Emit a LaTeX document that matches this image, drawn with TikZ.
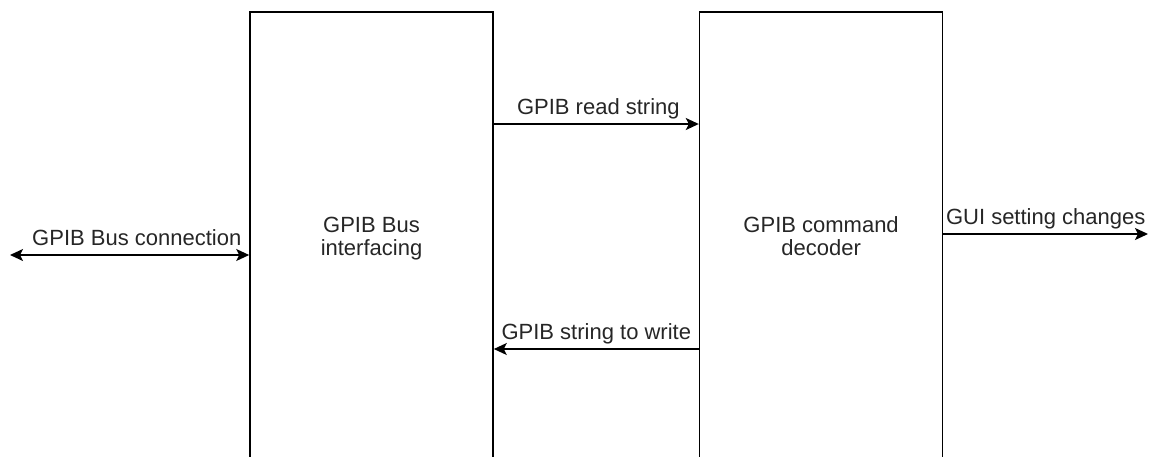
\documentclass[tikz,border=0pt]{standalone}
\usepackage{fontspec}
\setmainfont{Liberation Sans}
\usepackage{tikz}
\usetikzlibrary{arrows.meta,positioning,calc}

\begin{document}
\begin{tikzpicture}[
  x=1pt,y=-1pt,
  box/.style={rectangle,draw=black,line width=1.6pt,minimum width=243pt,minimum height=486pt,inner sep=0pt},
  boxtext/.style={align=center,font=\fontsize{22}{23}\selectfont,inner sep=0pt,text=black!85},
  lbl/.style={font=\fontsize{22}{23}\selectfont,anchor=base,inner sep=0pt,yshift=10pt,text=black!85},
  arr/.style={-{Stealth[length=13pt,width=12pt,inset=3pt]},line width=1.6pt},
  darr/.style={{Stealth[length=13pt,width=12pt,inset=3pt]}-{Stealth[length=13pt,width=12pt,inset=3pt]},line width=1.6pt}
]
\useasboundingbox (0,0) rectangle (1154,456);
\clip (0,0) rectangle (1154,456);
\node[box] (iface) at (371.5,255) {};
\node[box,right=205pt of iface] (dec) {};
\node[boxtext] at ([yshift=16pt]iface.center) {GPIB Bus\\interfacing};
\node[boxtext] at ([yshift=19pt]dec.center) {GPIB command\\decoder};
\coordinate (bus) at (10,255);
\coordinate (gui) at (1148,234);
\draw[darr] (bus)--node[lbl,pos=0.53]{GPIB Bus connection}(iface.west);
\draw[arr] ([yshift=131pt]iface.east)--node[lbl,pos=0.51]{GPIB read string}([yshift=131pt]dec.west);
\draw[arr] ([yshift=-94pt]dec.west)--node[lbl]{GPIB string to write}([yshift=-94pt]iface.east);
\draw[arr] ([yshift=21pt]dec.east)--node[lbl]{GUI setting changes}(gui);
\end{tikzpicture}
\end{document}
